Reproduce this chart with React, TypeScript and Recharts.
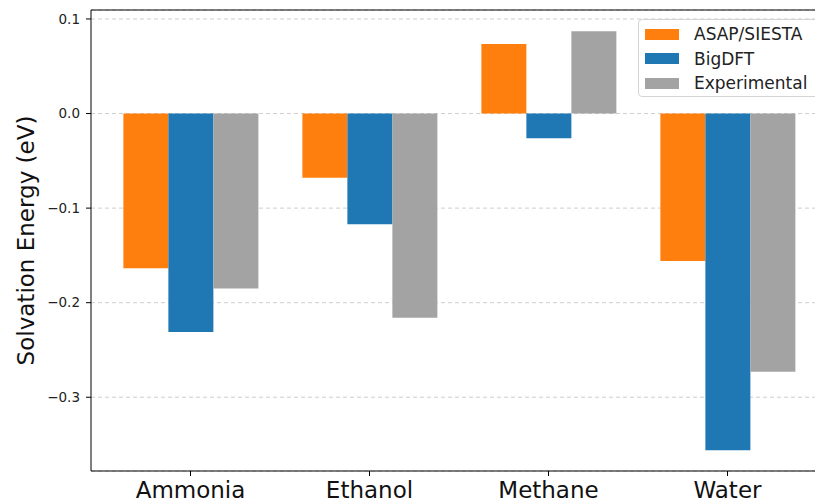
import React from 'react';
import { BarChart, Bar, XAxis, YAxis, CartesianGrid, ReferenceLine } from 'recharts';

const molecules = ['Ammonia', 'Ethanol', 'Methane', 'Water'];
const asapSiesta = [-0.1635, -0.068, 0.0735, -0.156];
const bigDft = [-0.231, -0.117, -0.026, -0.356];
const experimental = [-0.185, -0.216, 0.087, -0.273];
const yTicks = [-0.3, -0.2, -0.1, 0, 0.1];

const series = [
    { key: 'asap', name: 'ASAP/SIESTA', color: '#ff7f0e' },
    { key: 'bigdft', name: 'BigDFT', color: '#1f77b4' },
    { key: 'exp', name: 'Experimental', color: '#a3a3a3' },
];

const data = molecules.map((m, i) => ({
    name: m,
    asap: asapSiesta[i],
    bigdft: bigDft[i],
    exp: experimental[i],
}));

const FONT = '"DejaVu Sans", sans-serif';
const Y_MIN = -0.378;
const Y_MAX = 0.1095;

const fmt = (v: number) => v.toFixed(1).replace('-', '\u2212');

function LegendBox() {
    return (
        <div style={{
            position: 'absolute', left: 638, top: 19,
            width: 190, height: 78, border: '1px solid #d4d4d4', borderRadius: 4,
            background: 'rgba(255,255,255,0.85)', fontFamily: FONT, fontSize: 17,
            color: '#222', boxSizing: 'border-box', paddingTop: 2,
        }}>
            {series.map((s) => (
                <div key={s.key} style={{ display: 'flex', alignItems: 'center', height: 24.5 }}>
                    <div style={{ width: 34, height: 11, background: s.color, marginLeft: 6, marginRight: 15 }} />
                    <span>{s.name}</span>
                </div>
            ))}
        </div>
    );
}

export default function App() {
    return (
        <div style={{ position: 'absolute', left: 0, top: 0, width: 815, height: 502, overflow: 'hidden', background: '#fff' }}>
            <BarChart
                width={840}
                height={502}
                data={data}
                margin={{ top: 10, right: 13, bottom: 1, left: 0 }}
                barGap={0}
                barCategoryGap="12.5%"
            >
                <CartesianGrid vertical={false} stroke="#cfcfcf" strokeDasharray="4 3" />
                <XAxis
                    dataKey="name"
                    height={30}
                    padding={{ left: 10, right: 10 }}
                    axisLine={{ stroke: '#000' }}
                    tickLine={{ stroke: '#000' }}
                    tickSize={5}
                    tickMargin={6}
                    tick={{ fill: '#111', fontSize: 23, fontFamily: FONT }}
                />
                <YAxis
                    width={91}
                    type="number"
                    domain={[Y_MIN, Y_MAX]}
                    ticks={yTicks}
                    allowDataOverflow
                    tickFormatter={fmt}
                    axisLine={{ stroke: '#000' }}
                    tickLine={{ stroke: '#000' }}
                    tickSize={5}
                    tickMargin={6}
                    tick={{ fill: '#222', fontSize: 13.5, fontFamily: FONT }}
                    label={({ viewBox }: any) => (
                        <text
                            x={0}
                            y={0}
                            transform={`translate(34, ${viewBox.y + viewBox.height / 2}) rotate(-90)`}
                            textAnchor="middle"
                            fontSize={23}
                            fontFamily={FONT}
                            fill="#111"
                        >
                            Solvation Energy (eV)
                        </text>
                    )}
                />
                <ReferenceLine y={Y_MAX} stroke="#000" ifOverflow="extendDomain" />
                {series.map((s) => (
                    <Bar key={s.key} dataKey={s.key} name={s.name} fill={s.color} isAnimationActive={false} />
                ))}
            </BarChart>
            <LegendBox />
        </div>
    );
}
